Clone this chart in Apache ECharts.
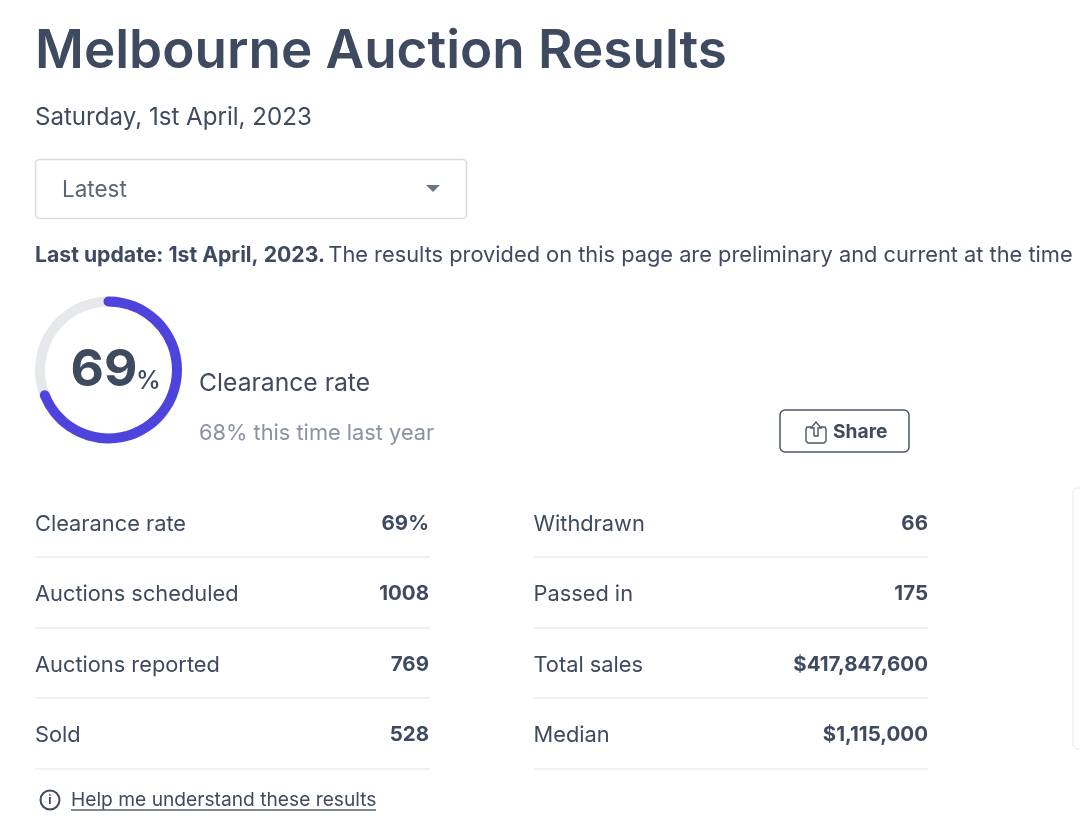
<!DOCTYPE html>
<html>
<head>
<meta charset="utf-8">
<style>html,body{margin:0;padding:0;background:#fff}#chart{width:1080px;height:834px}</style>
<script src="https://cdn.jsdelivr.net/npm/echarts@6/dist/echarts.min.js"></script>
</head>
<body>
<div id="chart"></div>
<script>
var clearanceRate = [69];
var leftLabels = ['Clearance rate', 'Auctions scheduled', 'Auctions reported', 'Sold'];
var leftValues = ['69%', '1008', '769', '528'];
var rightLabels = ['Withdrawn', 'Passed in', 'Total sales', 'Median'];
var rightValues = ['66', '175', '$417,847,600', '$1,115,000'];

var FONT = 'Inter';
var DARK = '#3e4a5f';
var GREY = '#8a93a3';
var RULE = '#e9ebee';

function label(x, y, text, size, weight, color, align) {
	return {
		type: 'text', x: x, y: y, silent: true,
		style: {
			text: text, fontFamily: FONT, fontSize: size, fontWeight: weight || 400,
			fill: color || DARK, align: align || 'left', verticalAlign: 'middle'
		}
	};
}
function rule(x1, x2, y, color) {
	return {
		type: 'line', silent: true,
		shape: {x1: x1, y1: y, x2: x2, y2: y},
		style: {stroke: color || RULE, lineWidth: 1.5}
	};
}
function stroke(points) {
	return {type: 'polyline', silent: true, shape: {points: points}, style: {fill: 'none', stroke: '#4b5669', lineWidth: 1.4}};
}

var items = [];
items.push(label(35, 52.5, 'Melbourne Auction Results', 53, 600));
items.push(label(35, 118, 'Saturday, 1st April, 2023', 24.1, 400));

// dropdown
items.push({type: 'rect', shape: {x: 35.5, y: 159.5, width: 431, height: 59, r: 4}, style: {fill: '#fff', stroke: '#d8dbe0', lineWidth: 1.5}});
items.push(label(62, 190.5, 'Latest', 22.5, 400, '#5a6577'));
items.push({type: 'polygon', shape: {points: [[426, 185], [440, 185], [433, 192]]}, style: {fill: '#6b7587'}});

// update line
items.push({
	type: 'text', x: 35, y: 255.5,
	style: {
		text: '{b|Last update: 1st April, 2023.} {n|The results provided on this page are preliminary and current at the time}',
		verticalAlign: 'middle',
		rich: {
			b: {fontFamily: FONT, fontSize: 21.2, fontWeight: 700, fill: DARK},
			n: {fontFamily: FONT, fontSize: 21.8, fontWeight: 400, fill: DARK}
		}
	}
});

// ring labels
items.push(label(70.5, 371, '69', 51.5, 700));
items.push(label(136, 381, '%', 25, 500));
items.push(label(199, 384, 'Clearance rate', 24.7, 400));
items.push(label(199, 433, '68% this time last year', 21.8, 400, GREY));

// share button
items.push({type: 'rect', shape: {x: 780, y: 410, width: 129, height: 42, r: 5}, style: {fill: '#fff', stroke: '#4b5669', lineWidth: 1.5}});
items.push(stroke([[811, 427], [807, 427], [806, 429], [806, 441], [808, 443], [824, 443], [826, 441], [826, 429], [825, 427], [821, 427]]));
items.push(stroke([[814, 436], [814, 428], [811, 428], [816, 422], [821, 428], [818, 428], [818, 436], [814, 436]]));
items.push(label(833, 432, 'Share', 19.2, 700));

// stats table
var rowY = [524, 594, 665, 735];
var lineY = [557, 628, 698, 769];
for (var i = 0; i < leftLabels.length; i++) {
	items.push(label(35, rowY[i], leftLabels[i], 21.8));
	items.push(label(429, rowY[i], leftValues[i], 20.5, 700, DARK, 'right'));
	items.push(rule(35, 430, lineY[i]));
	items.push(label(533.5, rowY[i], rightLabels[i], 21.8));
	items.push(label(928, rowY[i], rightValues[i], 20.5, 700, DARK, 'right'));
	items.push(rule(534, 928, lineY[i]));
}

// neighbouring panel cut off by the right edge
items.push({type: 'rect', shape: {x: 1073, y: 488, width: 40, height: 261, r: 5}, style: {fill: '#fff', stroke: '#e6e8eb', lineWidth: 1}});

// help link
items.push({type: 'circle', shape: {cx: 50, cy: 800, r: 9.5}, style: {fill: '#fff', stroke: DARK, lineWidth: 2}});
items.push(label(50, 800.5, 'i', 12, 700, DARK, 'center'));
items.push(label(71, 800.5, 'Help me understand these results', 19.2));
items.push(rule(71, 376, 810, '#566175'));

var chart = echarts.init(document.getElementById('chart'), null, {renderer: 'canvas'});
chart.setOption({
	backgroundColor: '#fff',
	animation: false,
	series: [{
		type: 'gauge',
		center: [108.5, 370],
		radius: 73.5,
		startAngle: 90,
		endAngle: -270,
		min: 0,
		max: 100,
		pointer: {show: false},
		axisTick: {show: false},
		splitLine: {show: false},
		axisLabel: {show: false},
		detail: {show: false},
		title: {show: false},
		axisLine: {lineStyle: {width: 10, color: [[1, '#e6e8ec']]}},
		progress: {show: true, roundCap: true, width: 10, itemStyle: {color: '#4f43de'}},
		data: [{value: clearanceRate[0]}]
	}],
	graphic: {elements: items}
});
</script>
</body>
</html>
